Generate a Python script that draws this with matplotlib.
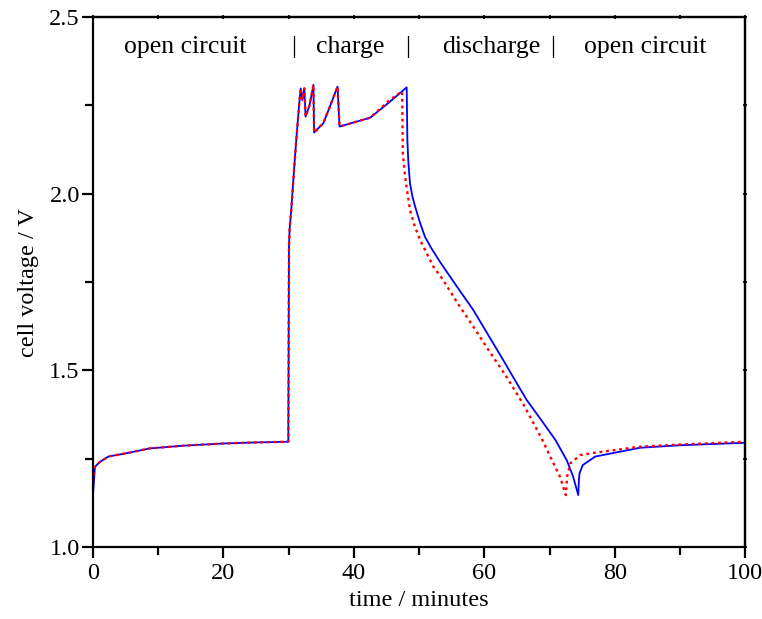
import numpy as np
import matplotlib
matplotlib.use("Agg")
import matplotlib.pyplot as plt
from matplotlib.ticker import MultipleLocator

plt.rcParams['font.family'] = ['Liberation Serif', 'DejaVu Serif']

# blue (solid) trace
t_blue = [0, 0.3, 1.0, 2.35, 5, 8.7, 14, 20, 25, 29.95, 30.05, 30.15, 30.4, 30.8,
          31.2, 31.6, 31.85, 32.1, 32.4, 32.6, 33.2, 33.8, 33.9, 35.3, 36.4, 37.5,
          37.8, 42.5, 45.5, 48.1, 48.2, 48.35, 48.6, 49.0, 49.4, 50.1, 50.9, 51.8,
          53.2, 55.8, 58.3, 60.6, 62.9, 64.7, 66.5, 68.7, 70.9, 72.65, 73.6, 74.4,
          74.5, 74.6, 75.1, 77.0, 83.9, 90, 100]
v_blue = [1.147, 1.227, 1.24, 1.256, 1.265, 1.279, 1.287, 1.293, 1.296, 1.298, 1.85,
          1.90, 1.954, 2.06, 2.16, 2.25, 2.298, 2.265, 2.298, 2.218, 2.25, 2.308,
          2.173, 2.199, 2.25, 2.303, 2.19, 2.215, 2.26, 2.301, 2.152, 2.09, 2.029,
          1.99, 1.963, 1.92, 1.878, 1.848, 1.807, 1.737, 1.671, 1.60, 1.529, 1.472,
          1.416, 1.36, 1.303, 1.245, 1.20, 1.147, 1.19, 1.209, 1.232, 1.256, 1.281,
          1.288, 1.295]

# red (dotted) trace
t_red = [0, 0.3, 1.0, 2.35, 5, 8.7, 14, 20, 25, 29.95, 30.05, 30.15, 30.4, 30.8,
         31.2, 31.6, 31.85, 32.1, 32.4, 32.6, 33.2, 33.8, 33.9, 35.3, 36.4, 37.5,
         37.8, 42.5, 45.5, 47.4, 47.45, 47.5, 47.85, 48.6, 49.3, 50.15, 51.2, 52.2,
         53.6, 55.9, 58.3, 60.8, 63.4, 66.1, 68.8, 70.1, 71.6, 72.5, 72.7, 73.2,
         74.7, 77, 83.9, 90, 100]
v_red = [1.185, 1.227, 1.24, 1.256, 1.265, 1.279, 1.287, 1.293, 1.296, 1.298, 1.85,
         1.90, 1.954, 2.06, 2.16, 2.25, 2.298, 2.265, 2.298, 2.218, 2.25, 2.308,
         2.173, 2.199, 2.25, 2.303, 2.19, 2.215, 2.265, 2.29, 2.2, 2.115, 2.048,
         1.954, 1.91, 1.869, 1.83, 1.793, 1.758, 1.69, 1.624, 1.553, 1.482, 1.40,
         1.307, 1.256, 1.199, 1.147, 1.2, 1.237, 1.26, 1.267, 1.284, 1.29, 1.298]

phase_labels = ["open circuit", "|", "charge", "|", "discharge", "|", "open circuit"]
phase_x = [14.1, 30.7, 39.5, 48.3, 61.0, 70.4, 84.7]

fs = 17.5
fig = plt.figure(figsize=(7.62, 6.19), dpi=100)
ax = fig.add_axes([0.122, 0.1163, 0.856, 0.8562])

ax.plot(t_blue, v_blue, color='blue', lw=1.3)
ax.plot(t_red, v_red, color='red', lw=1.7, linestyle=(0, (1.2, 1.6)))

for lab, xp in zip(phase_labels, phase_x):
    ax.text(xp, 2.415, lab, ha='center', va='center', fontsize=18.5)

ax.set_xlim(0, 100)
ax.set_ylim(1.0, 2.5)
ax.xaxis.set_major_locator(MultipleLocator(20))
ax.xaxis.set_minor_locator(MultipleLocator(10))
ax.yaxis.set_major_locator(MultipleLocator(0.5))
ax.yaxis.set_minor_locator(MultipleLocator(0.25))
ax.yaxis.set_major_formatter(plt.FormatStrFormatter('%.1f'))

for s in ax.spines.values():
    s.set_linewidth(1.6)

ax.tick_params(which='both', direction='out', width=1.6, labelsize=fs,
               top=False, right=False)
ax.tick_params(which='major', length=8)
ax.tick_params(which='minor', length=6)
ax.tick_params(axis='y', which='major', pad=1.5)

sec_x = ax.secondary_xaxis('top')
sec_x.xaxis.set_major_locator(MultipleLocator(10))
sec_x.tick_params(direction='inout', length=3, width=1.2, labeltop=False)
sec_y = ax.secondary_yaxis('right')
sec_y.yaxis.set_major_locator(MultipleLocator(0.25))
sec_y.tick_params(direction='inout', length=3, width=1.2, labelright=False)
sec_x.spines['top'].set_linewidth(1.6)
sec_y.spines['right'].set_linewidth(1.6)

ax.set_xlabel("time / minutes", fontsize=fs, labelpad=4)
ax.set_ylabel("cell voltage / V", fontsize=fs, labelpad=7)

fig.savefig("out.png", dpi=100)
